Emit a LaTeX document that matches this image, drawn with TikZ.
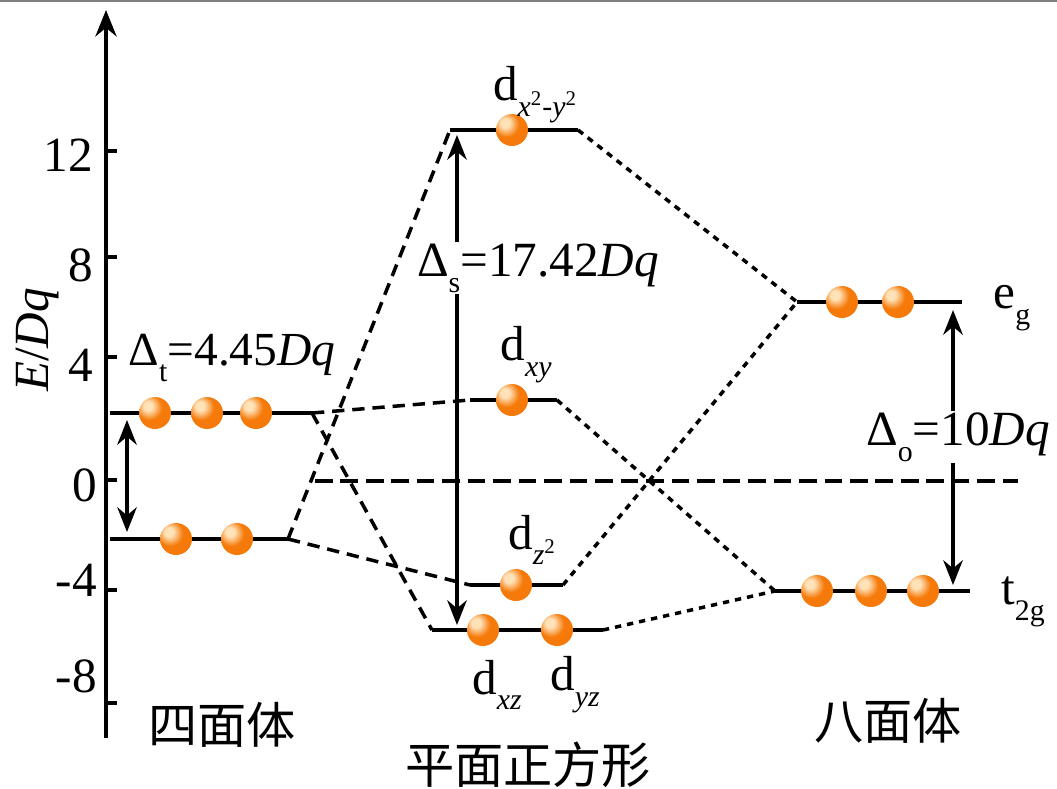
\documentclass[tikz,border=0pt]{standalone}
\usepackage{fontspec}
\setmainfont{Liberation Serif}
\newfontfamily\cjk{Noto Sans CJK SC}
\usetikzlibrary{arrows.meta}
\definecolor{eorb}{HTML}{F57A0A}
\definecolor{ehigh}{HTML}{FFE2B8}
\definecolor{edark}{HTML}{C85400}
\definecolor{framegray}{HTML}{808080}
\pgfdeclareradialshading{eball}{\pgfpoint{-12bp}{12bp}}{color(0bp)=(ehigh); color(7bp)=(ehigh); color(20bp)=(eorb); color(45bp)=(eorb); color(62bp)=(edark); color(80bp)=(edark)}
\newcommand{\lowidx}[1]{\raisebox{-0.32em}{\fontsize{17}{17}\selectfont #1}}
\begin{document}
\begin{tikzpicture}[x=0.02cm,y=-0.02cm,
      every node/.style={font=\fontsize{28}{32}\selectfont,inner sep=1pt},
      level/.style={line width=2.4pt},
      gap/.style={line width=2.4pt,{Stealth[length=14pt,width=11pt]}-{Stealth[length=14pt,width=11pt]}},
      tdash/.style={line width=2pt,dash pattern=on 7pt off 4.5pt},
      odash/.style={line width=2pt,dash pattern=on 3.6pt off 3.4pt},
      zero/.style={line width=2.4pt,dash pattern=on 10pt off 4.5pt},
      elec/.style={shading=eball},
      tick/.style={line width=2.8pt}]
    \useasboundingbox (0,0) rectangle (1057,788);
    \draw[framegray,line width=1pt] (0,1) -- (1057,1);
    % Energy axis with ticks
    \draw[line width=2.4pt,-{Stealth[length=15pt,width=12pt]}] (106,738) -- (106,10);
    \draw[tick] (108,151) -- (117,151);
    \draw[tick] (108,257) -- (117,257);
    \draw[tick] (108,357) -- (117,357);
    \draw[tick] (108,480) -- (117,480);
    \draw[tick] (108,590) -- (117,590);
    \draw[tick] (108,703) -- (117,703);
    \node[anchor=east] (y12) at (95,155) {12};
    \node[anchor=east] (y8) at (95,265) {8};
    \node[anchor=east] (y4) at (95,365) {4};
    \node[anchor=east] (y0) at (99,485) {0};
    \node[anchor=east] (ym4) at (99,580) {-4};
    \node[anchor=east] (ym8) at (99,676) {-8};
    \node[rotate=90] (ylab) at (38,340) {\textit{E}/\textit{Dq}};
    % Level end points
    \coordinate (tuL) at (110,413); \coordinate (tuR) at (312,413);
    \coordinate (tlL) at (110,539); \coordinate (tlR) at (288,539);
    \coordinate (xyL) at (450,130); \coordinate (xyR) at (578,130);
    \coordinate (dxyL) at (470,400); \coordinate (dxyR) at (557,400);
    \coordinate (dzL) at (470,585); \coordinate (dzR) at (563,585);
    \coordinate (dxzL) at (432,630); \coordinate (dxzR) at (603,630);
    \coordinate (egL) at (797,302); \coordinate (egR) at (962,302);
    \coordinate (tgL) at (775,591); \coordinate (tgR) at (970,591);
    \coordinate (zL) at (315,481); \coordinate (zR) at (1018,481);
    % Zero line and correlation lines
    \draw[zero] (zL) -- (zR);
    \draw[tdash] (tuR) -- (dxyL);
    \draw[tdash] (tuR) -- (dxzL);
    \draw[tdash] (tlR) -- (xyL);
    \draw[tdash] (tlR) -- (dzL);
    \draw[odash] (xyR) -- (egL);
    \draw[odash] (dzR) -- (egL);
    \draw[odash] (dxyR) -- (tgL);
    \draw[odash] (dxzR) -- (tgL);
    % Levels
    \draw[level] (tuL) -- (tuR);
    \draw[level] (tlL) -- (tlR);
    \draw[level] (xyL) -- (xyR);
    \draw[level] (dxyL) -- (dxyR);
    \draw[level] (dzL) -- (dzR);
    \draw[level] (dxzL) -- (dxzR);
    \draw[level] (egL) -- (egR);
    \draw[level] (tgL) -- (tgR);
    % Splitting arrows
    \draw[gap] (127,420) -- (127,532);
    \draw[gap] (457,135) -- (457,625);
    \draw[gap] (953,310) -- (953,585);
    % Electrons
    \shade[elec] (155,413) circle (0.32cm);
    \shade[elec] (207,413) circle (0.32cm);
    \shade[elec] (256,413) circle (0.32cm);
    \shade[elec] (176,539) circle (0.32cm);
    \shade[elec] (237,539) circle (0.32cm);
    \shade[elec] (512,130) circle (0.32cm);
    \shade[elec] (512,400) circle (0.32cm);
    \shade[elec] (516,585) circle (0.32cm);
    \shade[elec] (483,630) circle (0.32cm);
    \shade[elec] (557,630) circle (0.32cm);
    \shade[elec] (842,302) circle (0.32cm);
    \shade[elec] (898,302) circle (0.32cm);
    \shade[elec] (817,591) circle (0.32cm);
    \shade[elec] (871,591) circle (0.32cm);
    \shade[elec] (923,591) circle (0.32cm);
    % Level labels
    \node (lbxy2) at (535,95) {d\lowidx{\textit{x}\textsuperscript{2}-\textit{y}\textsuperscript{2}}};
    \node (lbxy) at (526,355) {d\lowidx{\textit{xy}}};
    \node (lbz2) at (532,540) {d\lowidx{\textit{z}\textsuperscript{2}}};
    \node (lbxz) at (497,685) {d\lowidx{\textit{xz}}};
    \node (lbyz) at (575,685) {d\lowidx{\textit{yz}}};
    \node (lbeg) at (1012,308) {e\lowidx{g}};
    \node (lbtg) at (1023,602) {t\lowidx{2g}};
    % Splitting labels
    \node[font=\fontsize{27}{30}\selectfont] (dt) at (232,358) {Δ\lowidx{t}=4.45\textit{Dq}};
    \node[fill=white] (ds) at (538,268) {Δ\lowidx{s}=17.42\textit{Dq}};
    \node[fill=white] (do) at (958,437) {Δ\lowidx{o}=10\textit{Dq}};
    % Geometry names
    \node[font=\fontsize{28}{32}\cjk] (tetra) at (222,725) {四面体};
    \node[font=\fontsize{28}{32}\cjk] (sqpl) at (528,765) {平面正方形};
    \node[font=\fontsize{28}{32}\cjk] (octa) at (888,721) {八面体};
\end{tikzpicture}
\end{document}
